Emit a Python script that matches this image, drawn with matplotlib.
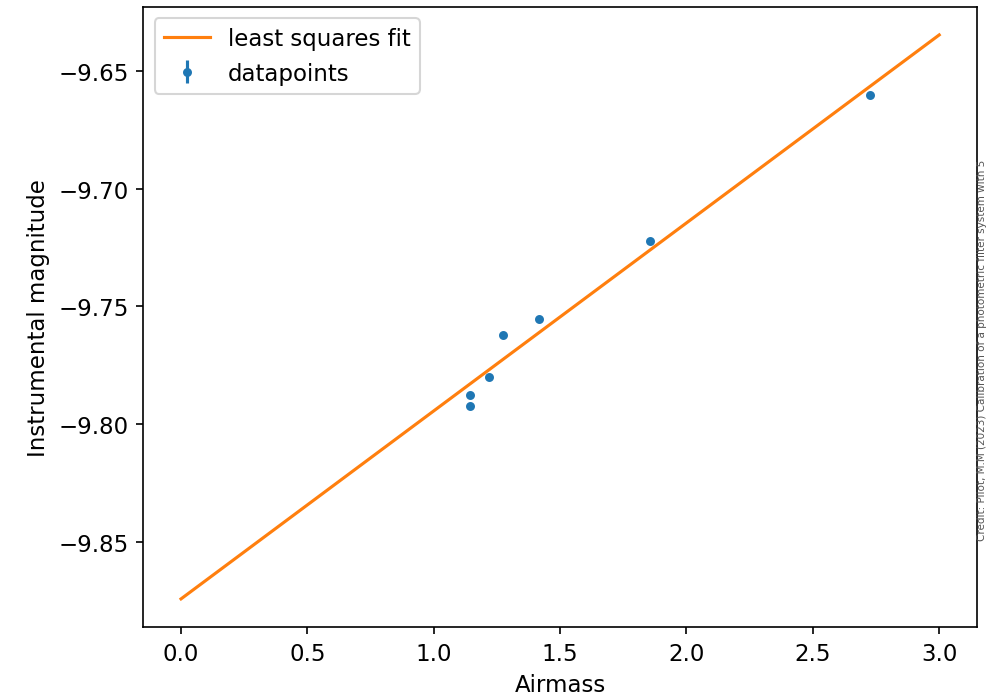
import numpy as np
import matplotlib.pyplot as plt

airmass = [1.142, 1.142, 1.217, 1.273, 1.415, 1.854, 2.727]
inst_mag = [-9.7874, -9.7924, -9.7799, -9.7623, -9.7552, -9.7222, -9.6600]
mag_err = [0.001, 0.001, 0.001, 0.001, 0.001, 0.001, 0.001]

fit_x = [0.0, 3.0]
credit = 'Credit: Pilot, M.M (2023) Calibration of a photometric filter system with 5'

coef = np.polyfit(airmass, inst_mag, 1)
fit_y = np.polyval(coef, fit_x)

plt.rcParams['font.size'] = 11

fig = plt.figure(figsize=(987 / 150, 701 / 150), dpi=150)
ax = fig.add_axes([0.145, 0.104, 0.845, 0.885])

ax.plot(fit_x, fit_y, color='tab:orange', label='least squares fit')
ax.errorbar(airmass, inst_mag, yerr=mag_err, fmt='o', markersize=3.3,
            color='tab:blue', label='datapoints')

ax.set_xlabel('Airmass')
ax.set_ylabel('Instrumental magnitude')
ax.legend(loc='upper left')

fig.text(0.9945, 0.5, credit, rotation=90, fontsize=5, color='#555555',
         ha='center', va='center')

fig.savefig('out.png', dpi=150)
